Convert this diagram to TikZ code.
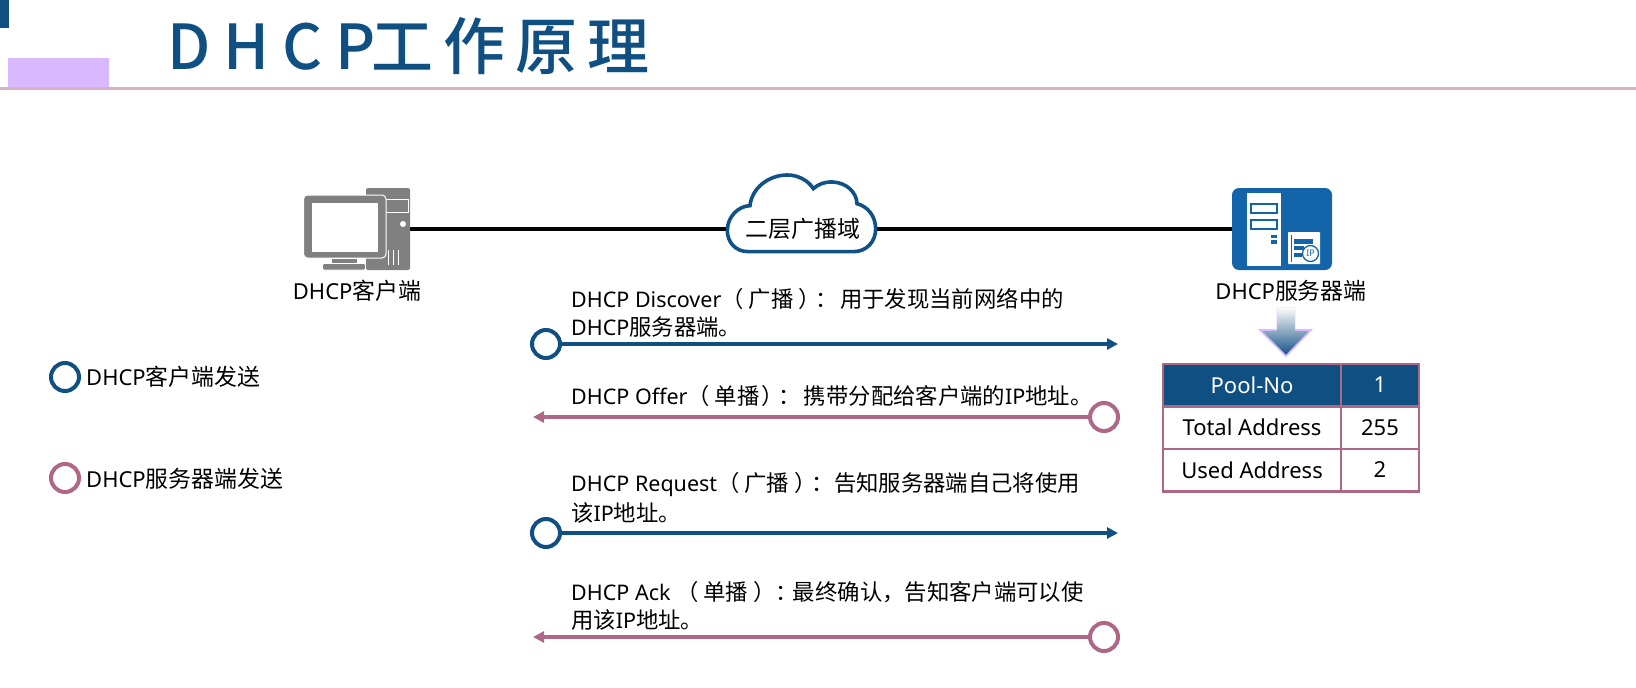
\documentclass[tikz,border=0pt]{standalone}
\usepackage{fontspec}
\usetikzlibrary{arrows.meta,shadings}
\setmainfont{Noto Sans}
\newfontfamily\cjkf[Scale=1.04]{Noto Sans CJK SC}
\newfontfamily\titlea[LetterSpace=21]{Noto Sans CJK SC Medium}
\newfontfamily\titleb[LetterSpace=16]{Noto Sans CJK SC Medium}
\newcommand{\zh}[1]{{\cjkf #1}}
\definecolor{navy}{HTML}{0F4F82}
\definecolor{rose}{HTML}{AE6785}
\definecolor{srv}{HTML}{1464AA}
\definecolor{gry}{HTML}{808080}
\definecolor{lilac}{HTML}{DAB8FF}
\definecolor{rule}{HTML}{D9B3C3}
\tikzset{
 body/.style={inner sep=0,anchor=west,font=\fontsize{21.5}{26}\selectfont,text=black},
 lab/.style={inner sep=0,font=\fontsize{22}{26}\selectfont,text=black},
 ring/.style={circle,draw=#1,fill=white,line width=4,minimum size=28,inner sep=0},
 msg/.style={draw=#1,line width=3.4,-{Triangle[length=11,width=11]},color=#1},
 hcell/.style={draw=rose,line width=2.5,fill=navy,text=white,minimum height=42.5,inner sep=0,font=\fontsize{22}{26}\selectfont},
 bcell/.style={draw=rose,line width=2.5,fill=white,text=black,minimum height=42.5,inner sep=0,font=\fontsize{22}{26}\selectfont},
 ghost/.style={inner sep=0,outer sep=0},
 link/.style={draw=black,line width=3.2}
}
\begin{document}
\begin{tikzpicture}[x=1pt,y=-1pt]
\useasboundingbox (0,0) rectangle (1636,688);
% header
\fill[navy] (0,0) rectangle (9,28);
\fill[lilac] (8,58) rectangle (109,88);
\fill[rule] (0,87) rectangle (1636,90);
\node[inner sep=0,anchor=west,text=navy,font=\fontsize{62}{64}\selectfont] (title) at (167,46) {{\titlea DHCP}\hspace{-4pt}{\titleb 工作原理}};
% anchors
\node[ghost,minimum width=44,minimum height=82] (tower) at (388,229) {};
\node[ghost,minimum width=100,minimum height=82] (server) at (1282,229) {};
\node[ghost,minimum width=149,minimum height=40] (cloud) at (801.5,229) {};
\draw[link] (tower.east) -- (cloud.west);
\draw[link] (cloud.east) -- (server.west);
% computer
\fill[gry,rounded corners=2] (366,188) rectangle (410,270);
\draw[white,line width=1] (385,199) rectangle (408,212);
\fill[white] (403,224) circle (3);
\foreach \x in {388,393,398}{\draw[white,line width=1] (\x,250) -- (\x,265);}
\fill[gry,rounded corners=4,draw=white,line width=1] (303.5,195) rectangle (386,258);
\fill[white] (312,203) rectangle (378,252);
\fill[gry,draw=white,line width=.6] (331,258) rectangle (357,264);
\fill[gry,rounded corners=1.5,draw=white,line width=.6] (322.5,263.5) rectangle (365.5,270);
% cloud
\begin{scope}[shift={(700,160)},x=0.3333pt,y=-0.3333pt]
\draw[navy!90!srv,line width=3.6,fill=white]
 (145,275) .. controls (105,275) and (82,245) .. (82,212)
 .. controls (82,170) and (115,138) .. (150,137)
 .. controls (155,85) and (205,45) .. (262,45)
 .. controls (295,45) and (325,62) .. (340,86)
 .. controls (355,72) and (375,65) .. (398,66)
 .. controls (440,68) and (470,97) .. (471,131)
 .. controls (505,140) and (527,170) .. (527,207)
 .. controls (527,245) and (500,275) .. (460,275) -- cycle;
\end{scope}
\node[lab,font=\fontsize{22}{26}\selectfont\cjkf] (cloudtext) at (803,229) {二层广播域};
% server
\fill[srv,rounded corners=7] (server.south west) rectangle (server.north east);
\fill[white] (1247,193) rectangle (1281,266);
\draw[srv,line width=2.4] (1251,204) rectangle (1277,213);
\draw[srv,line width=2.4] (1251,220) rectangle (1277,229);
\fill[srv] (1271,234.5) rectangle (1277,238);
\fill[srv] (1271,240) rectangle (1277,243.5);
\fill[white,rounded corners=.8] (1288,232) rectangle (1320,264);
\draw[srv,line width=.9] (1291.5,235) -- (1291.5,262);
\fill[srv] (1294,239) rectangle (1313,243.5);
\fill[srv] (1294,246) rectangle (1304,250);
\fill[srv] (1294,253) rectangle (1302,257);
\draw[srv,line width=1.3,fill=white] (1310.5,253.5) circle (8);
\node[inner sep=0,text=srv,font=\fontsize{9}{9}\selectfont\bfseries] (iptag) at (1310.5,253.5) {IP};
\node[lab] (clab) at (357,291) {DHCP\zh{客户端}};
\node[lab] (slab) at (1291,291) {DHCP\zh{服务器端}};
% down arrow
\shade[top color=white,middle color=navy!40!white,bottom color=navy]
 (1276,307) -- (1295,307) -- (1295,330) -- (1311,330) -- (1286,356) -- (1260,330) -- (1276,330) -- cycle;
\draw[lilac!25!white,line width=1] (1276,330) -- (1276,307) -- (1295,307) -- (1295,330);
\draw[lilac,line width=1.6,line join=miter] (1276,330) -- (1260,330) -- (1286,356) -- (1311,330) -- (1295,330);
% table
\node[hcell,minimum width=178] (h1) at (1252,385) {Pool-No};
\node[hcell,minimum width=78] (h2) at (1380,385) {1};
\node[bcell,minimum width=178] (a1) at (1252,427.5) {Total Address};
\node[bcell,minimum width=78] (a2) at (1380,427.5) {255};
\node[bcell,minimum width=178] (b1) at (1252,470) {Used Address};
\node[bcell,minimum width=78] (b2) at (1380,470) {2};
% legend
\node[ring=navy] (lg1) at (65,377) {};
\node[ring=rose] (lg2) at (65,478) {};
\node[body,font=\fontsize{22}{26}\selectfont] (lt1) at (86,377) {DHCP\zh{客户端发送}};
\node[body,font=\fontsize{22}{26}\selectfont] (lt2) at (86,479) {DHCP\zh{服务器端发送}};
% messages
\node[ring=navy] (r1) at (546,344) {};
\coordinate (e1) at (1118,344);
\draw[msg=navy] (r1.east) -- (e1);
\node[ring=rose] (r2) at (1104,417) {};
\coordinate (e2) at (533,417);
\draw[msg=rose] (r2.west) -- (e2);
\node[ring=navy] (r3) at (546,533) {};
\coordinate (e3) at (1118,533);
\draw[msg=navy] (r3.east) -- (e3);
\node[ring=rose] (r4) at (1104,637) {};
\coordinate (e4) at (533,637);
\draw[msg=rose] (r4.west) -- (e4);
\node[body] (t1a) at (571,299) {DHCP Discover\zh{（ 广播 ）\hspace{-5pt}：\hspace{2pt}用于发现当前网络中的}};
\node[body] (t1b) at (571,327) {DHCP\zh{服务器端。}};
\node[body] (t2) at (571,396) {DHCP Offer\zh{（ 单播\hspace{-3pt} ）\hspace{-6pt}：\hspace{3.5pt}携带分配给客户端的}IP\zh{地址。}};
\node[body] (t3a) at (571,485) {DHCP Request\zh{（ 广播 ）\hspace{-5pt}：告知服务器端自己将使用}};
\node[body] (t3b) at (571,513) {\zh{该}IP\zh{地址。}};
\node[body] (t4a) at (571,592) {DHCP Ack \zh{（ 单播 ）：\hspace{-5pt}最终确认，告知客户端可以使}};
\node[body] (t4b) at (571,620) {\zh{用该}IP\zh{地址。}};
\end{tikzpicture}
\end{document}
